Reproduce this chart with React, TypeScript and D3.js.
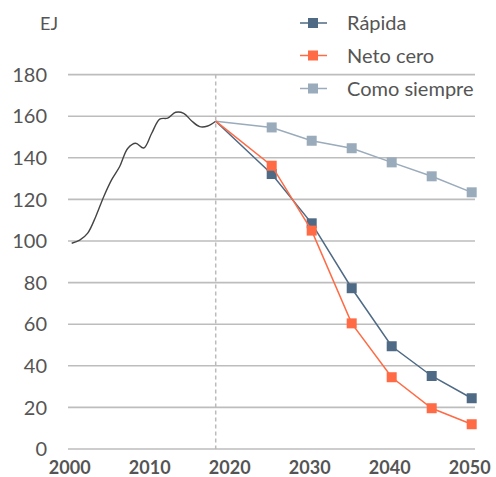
import React from "react";
import * as d3 from "d3";

const histYears = [2000, 2001, 2002, 2003, 2004, 2005, 2006, 2007, 2008, 2009, 2010, 2011, 2012, 2013, 2014, 2015, 2016, 2017, 2018];
const histValues = [98.9, 100.4, 103.8, 111.7, 121.3, 129.5, 135.8, 144.5, 147, 144.7, 151.8, 158.6, 159.1, 161.9, 161.4, 157.7, 155, 155.3, 157.6];

const scenYears = [2018, 2025, 2030, 2035, 2040, 2045, 2050];
const rapida = [157.6, 132.2, 108.5, 77.3, 49.4, 35.1, 24.4];
const netoCero = [157.6, 136.2, 105, 60.4, 34.5, 19.6, 11.9];
const comoSiempre = [157.6, 154.6, 148.2, 144.6, 137.8, 131.1, 123.4];

const seriesNames = ["Rápida", "Neto cero", "Como siempre"];
const seriesColors = ["#4f6a85", "#ff6b45", "#9aabbb"];

const yTicks = [0, 20, 40, 60, 80, 100, 120, 140, 160, 180];
const xTicks = [2000, 2010, 2020, 2030, 2040, 2050];
const splitYear = 2018;

const W = 496;
const H = 477;
const FONT = "Lato, 'Open Sans', sans-serif";

const App = () => {
  const ref = React.useRef<SVGSVGElement>(null);

  React.useEffect(() => {
    document.body.style.margin = "0";
    const svg = d3.select(ref.current);
    svg.selectAll("*").remove();

    const x = d3.scaleLinear().domain([2000, 2050]).range([71.7, 471.7]);
    const y = d3.scaleLinear().domain([0, 180]).range([449, 74.6]);

    // gridlines
    svg.append("g")
      .selectAll("line")
      .data(yTicks)
      .join("line")
      .attr("x1", 68)
      .attr("x2", 475)
      .attr("y1", d => y(d))
      .attr("y2", d => y(d))
      .attr("stroke", "#bdbdbd")
      .attr("stroke-width", 1.6);

    // y labels
    svg.append("g")
      .selectAll("text")
      .data(yTicks)
      .join("text")
      .attr("x", 47)
      .attr("y", d => y(d))
      .attr("dy", "0.36em")
      .attr("text-anchor", "end")
      .attr("font-family", FONT)
      .attr("font-size", "20px")
      .attr("fill", "#555")
      .text(d => d);

    svg.append("text")
      .attr("x", 49)
      .attr("y", 30)
      .attr("text-anchor", "middle")
      .attr("font-family", FONT)
      .attr("font-size", "18px")
      .attr("fill", "#555")
      .text("EJ");

    // x labels
    svg.append("g")
      .selectAll("text")
      .data(xTicks)
      .join("text")
      .attr("x", d => x(d) - 2)
      .attr("y", 474)
      .attr("text-anchor", "middle")
      .attr("font-family", FONT)
      .attr("font-weight", "bold")
      .attr("font-size", "18px")
      .attr("fill", "#555")
      .text(d => d);

    // dashed divider
    svg.append("line")
      .attr("x1", x(splitYear))
      .attr("x2", x(splitYear))
      .attr("y1", y(180))
      .attr("y2", y(0))
      .attr("stroke", "#bbb")
      .attr("stroke-width", 1.5)
      .attr("stroke-dasharray", "4,3");

    // historical
    const histLine = d3.line<number>()
      .x((_, i) => x(histYears[i]))
      .y(d => y(d))
      .curve(d3.curveCatmullRom);
    svg.append("path")
      .attr("d", histLine(histValues))
      .attr("fill", "none")
      .attr("stroke", "#444")
      .attr("stroke-width", 1.4);

    // scenarios (grey first so the coloured ones sit on top)
    const scen = [rapida, netoCero, comoSiempre];
    const order = [2, 0, 1];
    const sLine = d3.line<number>()
      .x((_, i) => x(scenYears[i]))
      .y(d => y(d));
    order.forEach(k => {
      const g = svg.append("g");
      g.append("path")
        .attr("d", sLine(scen[k]))
        .attr("fill", "none")
        .attr("stroke", seriesColors[k])
        .attr("stroke-width", 1.5);
      g.selectAll("rect")
        .data(scen[k].slice(1))
        .join("rect")
        .attr("x", (_, i) => x(scenYears[i + 1]) - 5)
        .attr("y", d => y(d) - 5)
        .attr("width", 10)
        .attr("height", 10)
        .attr("fill", seriesColors[k]);
    });

    // legend
    const legendY = [23, 55.5, 88.5];
    const lg = svg.append("g");
    seriesNames.forEach((name, i) => {
      lg.append("line")
        .attr("x1", 300)
        .attr("x2", 327)
        .attr("y1", legendY[i])
        .attr("y2", legendY[i])
        .attr("stroke", seriesColors[i])
        .attr("stroke-width", 1.5);
      lg.append("rect")
        .attr("x", 308)
        .attr("y", legendY[i] - 5)
        .attr("width", 10)
        .attr("height", 10)
        .attr("fill", seriesColors[i]);
      lg.append("text")
        .attr("x", 347)
        .attr("y", legendY[i])
        .attr("dy", "0.36em")
        .attr("font-family", FONT)
        .attr("font-size", "20px")
        .attr("fill", "#555")
        .text(name);
    });
  }, []);

  return <svg ref={ref} width={W} height={H} style={{ display: "block", background: "#fff" }} />;
};

export default App;
